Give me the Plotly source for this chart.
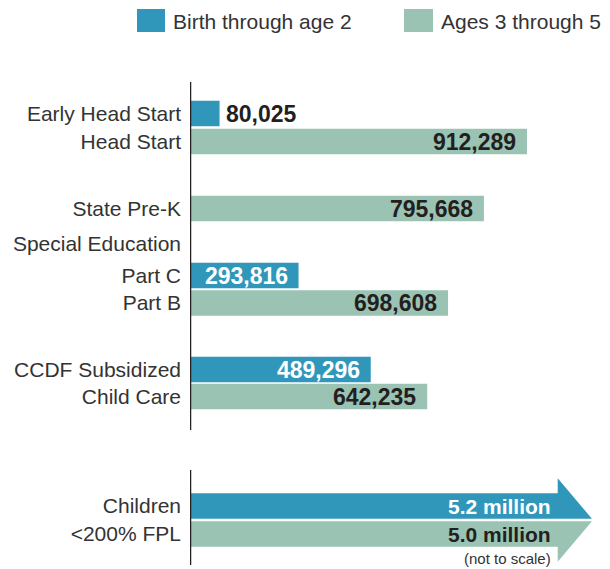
import plotly.graph_objects as go

# ---------------- data ----------------
legend_names = ["Birth through age 2", "Ages 3 through 5"]

programs_0_2 = ["Early Head Start", "Part C", "CCDF Subsidized Child Care"]
values_0_2 = [80025, 293816, 489296]

programs_3_5 = ["Head Start", "State Pre-K", "Part B", "CCDF Subsidized Child Care"]
values_3_5 = [912289, 795668, 698608, 642235]

fpl_groups = ["Birth through age 2", "Ages 3 through 5"]
fpl_values_million = [5.2, 5.0]   # children <200% FPL (drawn not to scale)

tick_labels = ["Early Head Start", "Head Start", "State Pre-K", "Special Education",
               "Part C", "Part B", "CCDF Subsidized", "Child Care",
               "Children", "<200% FPL"]

# ---------------- layout positions (reference pixels) ----------------
REF_W, REF_H = 610, 569
OFF = 8                      # page body margin of the browser
W, H = REF_W - OFF, REF_H - OFF
pos_0_2 = [113.5, 275.5, 369.5]
pos_3_5 = [141.5, 208.5, 303.0, 396.5]
fpl_pos = [506.0, 534.0]
tick_pos = [113.5, 141.5, 208.5, 243.5, 275.5, 303.0, 369.5, 396.5, 506.0, 534.0]
BAR_W = 25.5
HEAD_EXT = 15

BLUE = "#3097bb"
GREEN = "#9ac3b4"
DARK = "#231f20"
LABEL = "#333333"
FONT = "Liberation Sans, Arial, sans-serif"

X0_PX = 190
XMAX = 1137000          # axis range so that bars keep the reference's scale
ARROW_BODY = 0.8755 * XMAX   # not-to-scale arrows
ARROW_TIP = 0.957 * XMAX


def px(x):
    return (x - OFF) / W


def py(y):
    return 1 - (y - OFF) / H


fig = go.Figure()

fig.add_trace(go.Bar(x=values_0_2, y=pos_0_2, orientation="h", width=BAR_W,
                     marker=dict(color=BLUE, line=dict(width=0)),
                     name=legend_names[0], hoverinfo="x", showlegend=False))
fig.add_trace(go.Bar(x=values_3_5, y=pos_3_5, orientation="h", width=BAR_W,
                     marker=dict(color=GREEN, line=dict(width=0)),
                     name=legend_names[1], hoverinfo="x", showlegend=False))

# not-to-scale arrows for children <200% FPL
h = BAR_W / 2
c = fpl_pos[0]
fig.add_trace(go.Scatter(
    x=[0, ARROW_BODY, ARROW_BODY, ARROW_TIP, 0, 0],
    y=[c - h, c - h, c - h - HEAD_EXT, c + h, c + h, c - h],
    fill="toself", fillcolor=BLUE, mode="lines", line=dict(width=0, color=BLUE),
    hoverinfo="skip", showlegend=False))
c = fpl_pos[1]
fig.add_trace(go.Scatter(
    x=[0, ARROW_TIP, ARROW_BODY, ARROW_BODY, 0, 0],
    y=[c - h, c - h, c + h + HEAD_EXT, c + h, c + h, c - h],
    fill="toself", fillcolor=GREEN, mode="lines", line=dict(width=0, color=GREEN),
    hoverinfo="skip", showlegend=False))

annotations = []
NUMFONT = 23
for v, y in zip(values_0_2, pos_0_2):
    if v < 150000:
        annotations.append(dict(x=v, y=y, xref="x", yref="y", text=f"{v:,}",
                                showarrow=False, xanchor="left", xshift=4,
                                font=dict(family=FONT, size=NUMFONT, color=DARK, weight="bold")))
    else:
        annotations.append(dict(x=v, y=y, xref="x", yref="y", text=f"{v:,}",
                                showarrow=False, xanchor="right", xshift=-9,
                                font=dict(family=FONT, size=NUMFONT, color="white", weight="bold")))
for v, y in zip(values_3_5, pos_3_5):
    annotations.append(dict(x=v, y=y, xref="x", yref="y", text=f"{v:,}",
                            showarrow=False, xanchor="right", xshift=-9,
                            font=dict(family=FONT, size=NUMFONT, color=DARK, weight="bold")))
for v, y, col in zip(fpl_values_million, fpl_pos, ["white", DARK]):
    annotations.append(dict(x=ARROW_BODY, y=y, xref="x", yref="y", text=f"{v:.1f} million",
                            showarrow=False, xanchor="right", xshift=-5,
                            font=dict(family=FONT, size=21, color=col, weight="bold")))
annotations.append(dict(x=ARROW_BODY, y=fpl_pos[1] + 24, xref="x", yref="y",
                        text="(not to scale)", showarrow=False, xanchor="right", xshift=-5,
                        font=dict(family=FONT, size=15, color=LABEL)))

# legend (drawn manually for large swatches)
shapes = []
legend_items = [(legend_names[0], BLUE, 137, 165), (legend_names[1], GREEN, 404, 433)]
for name, col, x0, x1 in legend_items:
    shapes.append(dict(type="rect", xref="paper", yref="paper",
                       x0=px(x0), x1=px(x1), y0=py(32), y1=py(9),
                       fillcolor=col, line=dict(width=0)))
    annotations.append(dict(x=px(x1 + 6), y=py(21), xref="paper", yref="paper",
                            text=name, showarrow=False, xanchor="left", yanchor="middle",
                            font=dict(family=FONT, size=21, color=LABEL)))

# axis baseline segments
for y0, y1 in [(82, 430), (470, 565)]:
    shapes.append(dict(type="line", xref="x", yref="y", x0=0, x1=0, y0=y0, y1=y1,
                       line=dict(color=DARK, width=2.5)))

fig.update_layout(
    width=W, height=H,
    margin=dict(l=0, r=0, t=0, b=0),
    paper_bgcolor="white", plot_bgcolor="white",
    barmode="overlay",
    showlegend=False,
    xaxis=dict(range=[0, XMAX], domain=[px(X0_PX), 1], visible=False, fixedrange=True),
    yaxis=dict(range=[REF_H, OFF], domain=[0, 1], tickvals=tick_pos, ticktext=tick_labels,
               showgrid=False, zeroline=False, showline=False, ticks="",
               ticklabelstandoff=8,
               tickfont=dict(family=FONT, size=21, color=LABEL), fixedrange=True),
    annotations=annotations,
    shapes=shapes,
    font=dict(family=FONT),
)

fig.write_html("out.html")
